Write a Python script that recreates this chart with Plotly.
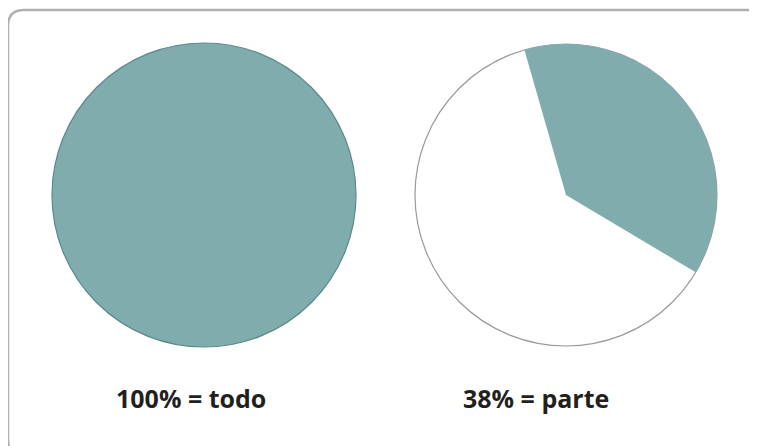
import plotly.graph_objects as go

# Data
whole_labels = ["todo"]
whole_values = [100]
part_labels = ["parte", "resto"]
part_values = [38, 62]
captions = ["100% = todo", "38% = parte"]

W, H = 757, 446
OFF = 8  # page body margin in the browser

def px(x):
    return (x - OFF) / W

def py(y):
    return 1 - (y - OFF) / H

TEAL = "#80acad"
TEAL_EDGE = "#5a898a"

fig = go.Figure()

# Left: full circle (100%)
fig.add_trace(go.Pie(
    labels=whole_labels, values=whole_values,
    domain=dict(x=[px(52), px(356)], y=[py(347), py(43)]),
    marker=dict(colors=[TEAL], line=dict(color=TEAL_EDGE, width=1.2)),
    textinfo="none", hoverinfo="label+percent", sort=False, showlegend=False,
))

# Right: outline base (whole circle, white)
fig.add_trace(go.Pie(
    labels=["base"], values=[100],
    domain=dict(x=[px(415), px(717)], y=[py(346), py(44)]),
    marker=dict(colors=["#ffffff"], line=dict(color="#9a9a9a", width=1.2)),
    textinfo="none", hoverinfo="skip", sort=False, showlegend=False,
))

# Right: 38% part
fig.add_trace(go.Pie(
    labels=part_labels, values=part_values,
    domain=dict(x=[px(415), px(717)], y=[py(346), py(44)]),
    marker=dict(colors=[TEAL, "rgba(255,255,255,0)"], line=dict(width=0)),
    textinfo="none", hoverinfo="label+percent",
    sort=False, direction="clockwise", rotation=-16, showlegend=False,
))

# Rounded frame
x0, y0, x1, y1, r = 8, 10, 790, 456, 16
path = (
    f"M {px(x0)},{py(y0 + r)} "
    f"L {px(x0)},{py(y1 - r)} Q {px(x0)},{py(y1)} {px(x0 + r)},{py(y1)} "
    f"L {px(x1 - r)},{py(y1)} Q {px(x1)},{py(y1)} {px(x1)},{py(y1 - r)} "
    f"L {px(x1)},{py(y0 + r)} Q {px(x1)},{py(y0)} {px(x1 - r)},{py(y0)} "
    f"L {px(x0 + r)},{py(y0)} Q {px(x0)},{py(y0)} {px(x0)},{py(y0 + r)} Z"
)
fig.add_shape(type="path", path=path, xref="paper", yref="paper",
              line=dict(color="#b0b0b0", width=2.5), fillcolor="rgba(0,0,0,0)")

label_x = [191, 536]
for t, xc in zip(captions, label_x):
    fig.add_annotation(
        text=f"<b>{t}</b>", x=px(xc), y=py(398), xref="paper", yref="paper",
        xanchor="center", yanchor="middle", showarrow=False,
        font=dict(family="Open Sans", size=25, color="#231f20"),
    )

fig.update_layout(
    width=W, height=H,
    margin=dict(l=0, r=0, t=0, b=0),
    paper_bgcolor="white", plot_bgcolor="white",
)

fig.write_html("out.html")
